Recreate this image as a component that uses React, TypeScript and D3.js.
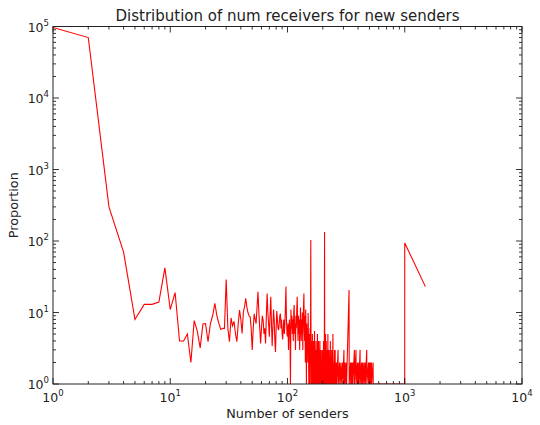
import { useEffect, useRef } from "react";
import * as d3 from "d3";

// number of receivers 1..110, one value each
const headCounts = [
  97000, 70000, 300, 70, 8, 13, 13, 14, 42, 11,
  19, 4, 4, 5, 2, 7.7, 5.5, 3.2, 6.9, 7,
  3.9, 7, 9, 13.4, 9, 7, 5.8, 6, 6, 29,
  6, 3.9, 8.4, 6.5, 7.5, 5, 3.9, 7, 10.8, 8,
  5.1, 10, 12, 15.8, 12, 10, 9, 8.7, 6, 3,
  6, 9.6, 8, 7, 12, 19.5, 10, 6, 3.7, 6,
  9, 7.8, 5, 6, 3.7, 9, 18.5, 10, 7, 4.6,
  9, 16.6, 7, 3.4, 6, 11, 8, 4, 2.8, 6,
  10.5, 8, 6, 5.7, 7, 9, 9.6, 6, 8, 5,
  4.2, 6, 8, 5, 7, 12, 23, 8, 5, 4.6,
  7, 3, 6, 8, 5, 1, 11, 6, 9, 5,
];

// sparse tail
const tailSenders = [
  111, 112, 113, 114, 115, 116, 117, 118, 119, 120,
  121, 122, 123, 124, 125, 126, 127, 128, 129, 130,
  131, 132, 133, 134, 135, 136, 137, 138, 139, 140,
  141, 142, 143, 144, 145, 146, 147, 148, 149, 150,
  151, 152, 153, 154, 155, 156, 157, 158, 159, 160,
  161, 162, 163, 164, 165, 166, 167, 168, 169, 170,
  171, 172, 173, 174, 175, 176, 177, 178, 179, 180,
  181, 182, 183, 184, 185, 186, 187, 188, 189, 190,
  191, 192, 193, 194, 196, 197, 198, 199, 200, 201,
  203, 204, 205, 206, 207, 208, 209, 210, 211, 212,
  213, 214, 215, 217, 218, 219, 220, 221, 222, 224,
  225, 226, 227, 229, 230, 232, 233, 235, 236, 238,
  239, 241, 242, 244, 245, 248, 249, 252, 253, 255,
  256, 259, 260, 262, 263, 270, 271, 278, 279, 286,
  287, 295, 296, 303, 304, 310, 311, 318, 319, 335,
  336, 345, 346, 352, 353, 360, 361, 372, 373, 384,
  385, 395, 396, 405, 406, 416, 417, 428, 429, 436,
  437, 448, 449, 460, 461, 474, 475, 490, 491, 500,
  501, 510, 511, 520, 521, 537, 538, 999, 1000, 1500,
];
const tailCounts = [
  8, 4, 10, 12.7, 5, 7, 3, 9, 6, 11,
  16.6, 7, 4, 9, 5, 8, 3, 6, 11.7, 7,
  4, 8, 5, 10, 3, 7, 12, 18.5, 6, 4,
  9, 2, 11, 5, 1, 7, 3, 6, 2, 9.8,
  4, 1, 5, 3, 1, 6, 2, 103, 1, 4,
  2, 1, 5, 1, 3, 1, 4, 2, 1, 5.5,
  1, 3, 2, 1, 4, 1, 2, 3, 1, 5,
  1, 2, 1, 4, 1, 3, 1, 2, 4, 1,
  2, 1, 3, 1, 2, 1, 3, 1, 2, 1,
  4, 1, 2, 1, 134, 1, 3, 1, 5, 1,
  2, 4, 1, 3, 1, 2, 1, 5, 1, 2,
  1, 3, 1, 2, 1, 4, 1, 2, 1, 3,
  1, 2, 1, 5, 1, 2, 1, 3, 1, 3,
  1, 2, 1, 2, 1, 3, 1, 2, 1, 2,
  1, 2, 1, 3, 1, 2, 1, 2, 1, 20.6,
  1, 2, 1, 2, 1, 2, 1, 3, 1, 3,
  1, 2, 1, 2, 1, 3, 1, 2, 1, 2,
  1, 2, 1, 2, 1, 3, 1, 2, 1, 2,
  1, 2, 1, 2, 1, 2, 1, 1, 94, 23,
];

const xTicks = [1, 10, 100, 1000, 10000];
const yTicks = [1, 10, 100, 1000, 10000, 100000];

export default function App() {
  const ref = useRef<SVGSVGElement>(null);

  useEffect(() => {
    const width = 540;
    const height = 425;
    const left = 53;
    const right = 522;
    const top = 26.5;
    const bottom = 384;
    const font = "DejaVu Sans, sans-serif";

    const points: [number, number][] = [
      ...headCounts.map((c, i) => [i + 1, c] as [number, number]),
      ...tailSenders.map((s, i) => [s, tailCounts[i]] as [number, number]),
    ];

    const x = d3.scaleLog().domain([1, 10000]).range([left, right]);
    const y = d3.scaleLog().domain([1, 100000]).range([bottom, top]);

    const svg = d3.select(ref.current);
    svg.selectAll("*").remove();

    svg.append("rect").attr("width", width).attr("height", height).attr("fill", "#fff");

    svg
      .append("clipPath")
      .attr("id", "plot")
      .append("rect")
      .attr("x", left)
      .attr("y", top)
      .attr("width", right - left)
      .attr("height", bottom - top);

    const line = d3
      .line<[number, number]>()
      .x((d) => x(d[0]))
      .y((d) => y(d[1]));

    svg
      .append("path")
      .datum(points)
      .attr("clip-path", "url(#plot)")
      .attr("fill", "none")
      .attr("stroke", "#ff0000")
      .attr("stroke-width", 1.1)
      .attr("d", line);

    const g = svg.append("g").attr("stroke", "#000").attr("stroke-width", 0.8);

    // minor ticks
    const minorX: number[] = [];
    for (let d = 0; d < 4; d++) for (let m = 2; m < 10; m++) minorX.push(m * 10 ** d);
    const minorY: number[] = [];
    for (let d = 0; d < 5; d++) for (let m = 2; m < 10; m++) minorY.push(m * 10 ** d);

    minorX.forEach((v) => {
      const px = x(v);
      g.append("line").attr("x1", px).attr("x2", px).attr("y1", bottom).attr("y2", bottom - 3);
      g.append("line").attr("x1", px).attr("x2", px).attr("y1", top).attr("y2", top + 3);
    });
    minorY.forEach((v) => {
      const py = y(v);
      g.append("line").attr("x1", left).attr("x2", left + 3).attr("y1", py).attr("y2", py);
      g.append("line").attr("x1", right).attr("x2", right - 3).attr("y1", py).attr("y2", py);
    });
    xTicks.forEach((v) => {
      const px = x(v);
      g.append("line").attr("x1", px).attr("x2", px).attr("y1", bottom).attr("y2", bottom - 6);
      g.append("line").attr("x1", px).attr("x2", px).attr("y1", top).attr("y2", top + 6);
    });
    yTicks.forEach((v) => {
      const py = y(v);
      g.append("line").attr("x1", left).attr("x2", left + 6).attr("y1", py).attr("y2", py);
      g.append("line").attr("x1", right).attr("x2", right - 6).attr("y1", py).attr("y2", py);
    });

    svg
      .append("rect")
      .attr("x", left)
      .attr("y", top)
      .attr("width", right - left)
      .attr("height", bottom - top)
      .attr("fill", "none")
      .attr("stroke", "#222")
      .attr("stroke-width", 1);

    // tick labels
    xTicks.forEach((v) => {
      const t = svg
        .append("text")
        .attr("x", x(v))
        .attr("y", bottom + 18)
        .attr("text-anchor", "middle")
        .attr("font-family", font)
        .attr("font-size", 12.5)
        .attr("fill", "#222");
      t.append("tspan").text("10");
      t.append("tspan").attr("dy", -6).attr("font-size", 8.5).text(String(Math.round(Math.log10(v))));
    });
    yTicks.forEach((v) => {
      const t = svg
        .append("text")
        .attr("x", left - 4)
        .attr("y", y(v) + 5)
        .attr("text-anchor", "end")
        .attr("font-family", font)
        .attr("font-size", 12.5)
        .attr("fill", "#222");
      t.append("tspan").text("10");
      t.append("tspan").attr("dy", -6).attr("font-size", 8.5).text(String(Math.round(Math.log10(v))));
    });

    svg
      .append("text")
      .attr("x", (left + right) / 2)
      .attr("y", 21)
      .attr("text-anchor", "middle")
      .attr("font-family", font)
      .attr("font-size", 15)
      .attr("fill", "#222")
      .text("Distribution of num receivers for new senders");

    svg
      .append("text")
      .attr("x", (left + right) / 2)
      .attr("y", 418)
      .attr("text-anchor", "middle")
      .attr("font-family", font)
      .attr("font-size", 12.8)
      .attr("fill", "#222")
      .text("Number of senders");

    svg
      .append("text")
      .attr("transform", `translate(18,${(top + bottom) / 2}) rotate(-90)`)
      .attr("text-anchor", "middle")
      .attr("font-family", font)
      .attr("font-size", 12.8)
      .attr("fill", "#222")
      .text("Proportion");
  }, []);

  return (
    <svg
      ref={ref}
      width={540}
      height={425}
      style={{ position: "absolute", left: 0, top: 0, display: "block" }}
    />
  );
}
